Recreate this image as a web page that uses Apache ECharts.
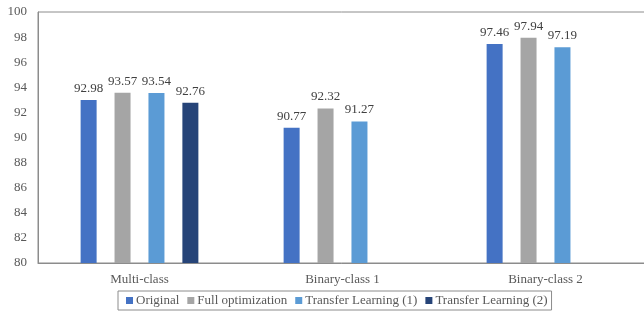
<!DOCTYPE html>
<html>
<head>
<meta charset="utf-8">
<script src="https://cdn.jsdelivr.net/npm/echarts@6/dist/echarts.min.js"></script>
<style>html,body{margin:0;padding:0;background:#fff;}#c{width:644px;height:312px;}</style>
</head>
<body>
<div id="c"></div>
<script>
const categories = ['Multi-class', 'Binary-class 1', 'Binary-class 2'];
const seriesNames = ['Original', 'Full optimization', 'Transfer Learning (1)', 'Transfer Learning (2)'];
const original = [92.98, 90.77, 97.46];
const fullOptimization = [93.57, 92.32, 97.94];
const transferLearning1 = [93.54, 91.27, 97.19];
const transferLearning2 = [92.76, null, null];
const yTicks = [80, 82, 84, 86, 88, 90, 92, 94, 96, 98, 100];

const colors = ['#4472C4', '#A5A5A5', '#5B9BD5', '#264478'];
const font = '"Liberation Serif", "Times New Roman", serif';
const values = [original, fullOptimization, transferLearning1, transferLearning2];

const chart = echarts.init(document.getElementById('c'), null, {renderer: 'canvas'});
chart.setOption({
  animation: false,
  color: colors,
  grid: {left: 38, top: 12, width: 609, height: 251, show: true, borderColor: '#8c8c8c', borderWidth: 1, backgroundColor: 'transparent', outerBoundsMode: 'none', containLabel: false},
  legend: {
    data: seriesNames,
    top: 291,
    left: 118,
    itemWidth: 7,
    itemHeight: 7,
    itemGap: 8,
    icon: 'rect',
    borderColor: '#8c8c8c',
    borderWidth: 1,
    borderRadius: 0,
    padding: [3, 4, 3, 8],
    textStyle: {fontFamily: font, fontSize: 13, color: '#595959', padding: [0, 0, 0, -2]}
  },
  xAxis: {
    type: 'category',
    data: categories,
    axisLine: {lineStyle: {color: '#8c8c8c', width: 1}},
    axisTick: {show: false},
    axisLabel: {fontFamily: font, fontSize: 13, color: '#595959', margin: 10}
  },
  yAxis: {
    type: 'value',
    min: yTicks[0],
    max: yTicks[yTicks.length - 1],
    interval: 2,
    axisLine: {show: true, lineStyle: {color: '#8c8c8c', width: 1}},
    axisTick: {show: false},
    splitLine: {show: false},
    axisLabel: {fontFamily: font, fontSize: 13, color: '#595959', margin: 11}
  },
  series: seriesNames.map((name, i) => ({
    name: name,
    type: 'bar',
    data: values[i],
    barWidth: 16,
    barGap: '112%',
    itemStyle: {color: colors[i]},
    label: {
      show: true,
      position: 'top',
      distance: 5,
      fontFamily: font,
      fontSize: 13,
      color: '#404040',
      formatter: p => p.value.toFixed(2)
    }
  }))
});
</script>
</body>
</html>
